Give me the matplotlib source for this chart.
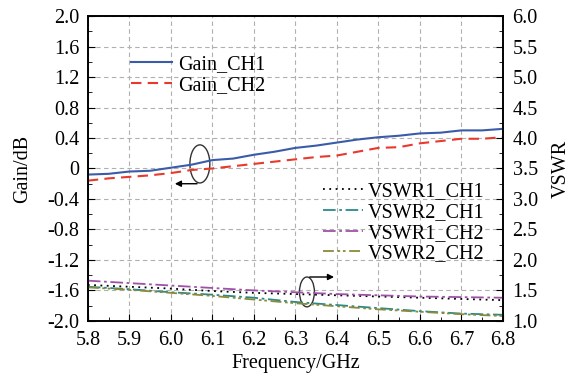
import numpy as np
import matplotlib
matplotlib.use('Agg')
import matplotlib.pyplot as plt
from matplotlib.patches import Ellipse
from matplotlib.ticker import MultipleLocator

plt.rcParams['font.family'] = ['Liberation Serif', 'DejaVu Serif']
plt.rcParams['font.size'] = 14.5

# gain curves sampled every 0.05 GHz
freq_g = [5.8, 5.85, 5.9, 5.95, 6.0, 6.05, 6.1, 6.15, 6.2, 6.25, 6.3,
          6.35, 6.4, 6.45, 6.5, 6.55, 6.6, 6.65, 6.7, 6.75, 6.8]
gain_ch1 = [-0.08, -0.07, -0.04, -0.03, 0.01, 0.05, 0.11, 0.13, 0.18, 0.22, 0.27,
            0.30, 0.34, 0.38, 0.41, 0.43, 0.46, 0.47, 0.50, 0.50, 0.52]
gain_ch2 = [-0.16, -0.13, -0.11, -0.09, -0.06, -0.02, 0.00, 0.03, 0.06, 0.09, 0.12,
            0.15, 0.17, 0.22, 0.27, 0.28, 0.33, 0.36, 0.39, 0.39, 0.41]

# vswr curves sampled every 0.1 GHz
freq_v = [5.8, 5.9, 6.0, 6.1, 6.2, 6.3, 6.4, 6.5, 6.6, 6.7, 6.8]
vswr1_ch1 = [1.59, 1.56, 1.53, 1.49, 1.46, 1.44, 1.42, 1.40, 1.38, 1.36, 1.34]
vswr2_ch1 = [1.56, 1.52, 1.47, 1.43, 1.38, 1.31, 1.26, 1.21, 1.16, 1.12, 1.10]
vswr1_ch2 = [1.66, 1.62, 1.58, 1.54, 1.50, 1.47, 1.44, 1.42, 1.40, 1.39, 1.38]
vswr2_ch2 = [1.55, 1.51, 1.46, 1.41, 1.35, 1.29, 1.24, 1.19, 1.15, 1.11, 1.08]

fig = plt.figure(figsize=(5.74, 3.74), dpi=100)
ax = fig.add_axes([0.153, 0.142, 0.723, 0.815])
ax2 = ax.twinx()

l1, = ax.plot(freq_g, gain_ch1, color='#3a5ca8', lw=1.5, label='Gain_CH1')
l2, = ax.plot(freq_g, gain_ch2, color='#e8392b', lw=1.5, ls=(0, (5, 3)), label='Gain_CH2')

v1, = ax2.plot(freq_v, vswr1_ch1, color='black', lw=1.3, ls=(0, (1, 2.5)), label='VSWR1_CH1')
v2, = ax2.plot(freq_v, vswr2_ch1, color='#2a8a8a', lw=1.3, ls=(0, (7, 2, 1.5, 2)), label='VSWR2_CH1')
v3, = ax2.plot(freq_v, vswr1_ch2, color='#a050a8', lw=1.3, ls=(0, (7, 2, 1.5, 2)), label='VSWR1_CH2')
v4, = ax2.plot(freq_v, vswr2_ch2, color='#8a8a3a', lw=1.3, ls=(0, (6, 2, 1.5, 1.5, 1.5, 2)), label='VSWR2_CH2')

ax.set_xlim(5.8, 6.8)
ax.set_ylim(-2.0, 2.0)
ax2.set_ylim(1.0, 6.0)
ax.set_xticks(np.arange(5.8, 6.81, 0.1))
ax.set_xticklabels(['%.1f' % v for v in np.arange(5.8, 6.81, 0.1)])
ax.set_yticks(np.arange(-2.0, 2.01, 0.4))
ax.set_yticklabels(['0' if abs(v) < 1e-9 else '%.1f' % v for v in np.arange(-2.0, 2.01, 0.4)])
ax.xaxis.set_minor_locator(MultipleLocator(0.05))
ax.yaxis.set_minor_locator(MultipleLocator(0.2))
ax2.yaxis.set_major_locator(MultipleLocator(0.5))
ax2.yaxis.set_minor_locator(MultipleLocator(0.25))
ax2.set_yticklabels(['%.1f' % v for v in ax2.get_yticks()])

ax.tick_params(which='both', direction='in', top=False)
ax.tick_params(axis='x', pad=7)
ax.tick_params(axis='y', pad=6)
ax.tick_params(which='major', length=5)
ax.tick_params(which='minor', length=3)
ax2.tick_params(which='both', direction='in', pad=7)
ax2.tick_params(which='major', length=5)
ax2.tick_params(which='minor', length=3)
for a in (ax, ax2):
    for s in a.spines.values():
        s.set_linewidth(1.2)

ax.grid(True, which='major', ls=(0, (4, 3)), color='#b0b0b0', lw=0.8)

ax.set_xlabel('Frequency/GHz', labelpad=3)
ax.set_ylabel('Gain/dB', labelpad=11)
ax2.set_ylabel('VSWR', labelpad=10)

ax.legend(handles=[l1, l2], loc='upper left', bbox_to_anchor=(0.105, 0.872),
          frameon=False, handlelength=2.0, handletextpad=0.3, labelspacing=0.08,
          borderaxespad=0, borderpad=0)
ax2.legend(handles=[v1, v2, v3, v4], loc='upper right', bbox_to_anchor=(0.955, 0.455),
           frameon=False, handlelength=2.0, handletextpad=0.2, labelspacing=0.08,
           borderaxespad=0, borderpad=0)

# marker ellipses with arrows
ax.add_patch(Ellipse((6.07, 0.06), 0.048, 0.5, fill=False, ec='#333333', lw=1.0))
ax.annotate('', xy=(6.003, -0.2), xytext=(6.07, -0.2),
            arrowprops=dict(arrowstyle='-|>', color='black', lw=1.0, mutation_scale=9))
ax2.add_patch(Ellipse((6.328, 1.475), 0.036, 0.49, fill=False, ec='#333333', lw=1.0))
ax2.annotate('', xy=(6.40, 1.72), xytext=(6.328, 1.72),
             arrowprops=dict(arrowstyle='-|>', color='black', lw=1.0, mutation_scale=9))

fig.savefig('out.png', dpi=100)
